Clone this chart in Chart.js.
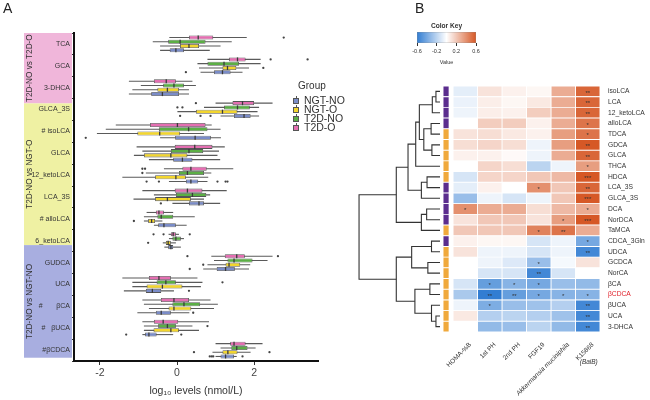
<!DOCTYPE html>
<html><head><meta charset="utf-8">
<script src="https://cdn.jsdelivr.net/npm/chart.js@4.4.1/dist/chart.umd.min.js"></script>
<style>
html,body{margin:0;padding:0;background:#fff;}
#wrap{position:relative;width:650px;height:400px;overflow:hidden;font-family:"Liberation Sans",Arial,sans-serif;color:#333;}
canvas{position:absolute;}
.plbl{position:absolute;font-size:14px;color:#222;}
.lg{position:absolute;font-size:10.5px;line-height:12px;color:#333;white-space:nowrap;}
.ic{position:absolute;left:-11px;top:2px;width:6px;height:8px;}
.ic i{position:absolute;left:2.5px;top:0;width:1px;height:8px;background:#555;}
.ic b{position:absolute;left:0;top:1.5px;width:4.4px;height:4.4px;border:0.8px solid #555;}
</style></head><body>
<div id="wrap">
  <canvas id="cA" width="400" height="400" style="left:0;top:0;width:400px;height:400px"></canvas>
  <canvas id="cD" width="90" height="400" style="left:355px;top:0;width:90px;height:400px"></canvas>
  <canvas id="cH" width="210" height="400" style="left:440px;top:0;width:210px;height:400px"></canvas>
  <canvas id="cK" width="80" height="55" style="left:410px;top:15px;width:80px;height:55px"></canvas>
  <div class="plbl" style="left:3px;top:0px">A</div>
  <div class="plbl" style="left:415px;top:0px">B</div>
  <div id="legend"></div>
</div>
<script>
const FAM = '"Liberation Sans", Arial, sans-serif';
Chart.defaults.font.family = FAM;
Chart.defaults.color = '#333';

// ---------------- Panel A data ----------------
const categories = ['TCA','GCA','3-DHCA','GLCA_3S','# isoLCA','GLCA','12_ketoLCA','LCA_3S','# alloLCA','6_ketoLCA','GUDCA','UCA','#\u00a0\u00a0\u00a0\u00a0\u00a0\u00a0\u00a0\u03b2CA','#\u00a0\u00a0\u00a0\u03b2UCA','#\u03b2CDCA'];
const groupNames = ['NGT-NO','NGT-O','T2D-NO','T2D-O'];
const groupColors = ['#7A8CC8','#F3D62E','#5BAF45','#E46FB2'];
// [lower whisker, Q1, median, Q3, upper whisker] per category
const boxNGTNO = [[-0.44,-0.19,-0.03,0.18,0.85],[0.61,0.96,1.18,1.39,1.70],[-1.25,-0.67,-0.38,0.05,0.31],[1.13,1.48,1.74,1.91,2.13],[-0.44,-0.05,0.47,0.88,1.14],[-0.73,-0.10,0.14,0.40,1.12],[-0.21,0.23,0.36,0.55,0.79],[-0.12,0.31,0.57,0.70,1.12],[-0.60,-0.49,-0.34,-0.03,0.25],[-0.33,-0.23,-0.16,-0.10,0.10],[0.68,1.03,1.26,1.50,1.87],[-1.38,-0.81,-0.64,-0.41,-0.08],[-1.03,-0.55,-0.41,-0.16,0.32],[-0.90,-0.83,-0.73,-0.53,-0.10],[1.00,1.13,1.26,1.48,1.55]];
const boxNGTO = [[-0.44,0.08,0.31,0.57,1.13],[0.57,1.18,1.31,1.54,1.87],[-1.16,-0.51,-0.25,0.05,0.31],[0.01,0.49,1.18,1.57,2.09],[-2.08,-1.03,-0.45,0.08,0.70],[-1.12,-0.86,-0.16,0.27,1.05],[-1.42,-0.57,-0.03,0.23,0.81],[-1.13,-0.57,-0.25,0.36,0.70],[-0.86,-0.75,-0.66,-0.57,-0.38],[-0.37,-0.29,-0.23,-0.16,-0.03],[0.79,1.26,1.35,1.64,1.90],[-1.16,-0.79,-0.38,0.14,0.62],[-0.73,-0.22,-0.08,0.37,0.96],[-0.86,-0.61,-0.16,0.05,0.57],[0.92,1.18,1.32,1.57,1.91]];
const boxT2DNO = [[-0.63,-0.23,0.08,0.74,1.42],[0.53,0.79,1.22,1.61,2.17],[-0.94,-0.36,-0.08,0.18,0.49],[0.70,1.22,1.57,1.89,2.13],[-1.85,-0.47,0.30,0.79,1.13],[-0.90,-0.16,0.31,0.68,1.09],[-0.81,0.05,0.27,0.70,0.89],[-0.60,-0.03,0.40,0.76,0.86],[-0.86,-0.51,-0.41,-0.10,0.46],[-0.21,-0.12,-0.03,0.10,0.18],[0.96,1.31,1.48,1.96,2.35],[-1.16,-0.53,-0.29,-0.03,0.66],[-0.86,-0.12,0.18,0.60,1.06],[-0.86,-0.49,-0.25,-0.03,0.40],[1.13,1.41,1.55,1.83,2.04]];
const boxT2DO = [[-0.20,0.31,0.55,0.94,1.81],[0.79,1.35,1.57,1.78,2.17],[-1.25,-0.60,-0.28,-0.03,0.40],[1.00,1.44,1.70,2.00,2.48],[-1.59,-0.70,0.01,0.74,0.90],[-1.05,-0.06,0.46,0.92,1.24],[-0.34,0.14,0.36,0.77,1.46],[-0.90,-0.06,0.27,0.66,1.29],[-0.79,-0.55,-0.47,-0.34,-0.10],[-0.22,-0.16,-0.10,-0.03,0.05],[0.89,1.24,1.55,1.76,2.48],[-1.42,-0.73,-0.47,-0.16,0.53],[-0.90,-0.42,-0.08,0.31,0.87],[-0.90,-0.60,-0.36,0.03,0.83],[1.00,1.38,1.48,1.78,2.22]];
// outliers: [category index, value]
const outNGTNO = [[1,0.23],[3,0.08],[3,0.61],[3,0.87],[4,-2.37],[6,-0.79],[6,-0.47],[6,1.05],[6,1.26],[6,1.31],[7,-0.42],[10,0.33],[11,0.31],[12,0.42],[13,-1.32],[13,0.11],[14,0.85],[14,0.90],[14,0.94],[14,1.70]];
const outNGTO = [[1,2.24],[8,-1.12],[9,-0.75],[10,0.68],[14,0.44],[14,2.40]];
const outT2DNO = [[3,0.01],[3,0.14],[6,-0.90],[11,1.18],[13,0.79]];
const outT2DO = [[0,2.77],[1,2.43],[1,3.39],[3,0.49],[6,-0.90],[6,-0.83],[9,-0.61],[9,-0.35],[9,0.33],[10,0.27],[10,2.62]];
const xTicksA = [-2,0,2];
const comparisons = [
  {label:'T2D-NO vs T2D-O', from:-0.5, to:2.72, color:'#F0B6DA'},
  {label:'T2D-NO vs NGT-O', from:2.72, to:9.2, color:'#EFF1A3'},
  {label:'T2D-NO vs NGT-NO', from:9.2, to:14.35, color:'#A8AEE0'}
];

// ---------------- Panel B data ----------------
const rowLabels = ['isoLCA','LCA','12_ketoLCA','alloLCA','TDCA','GDCA','GLCA','THCA','HDCA','LCA_3S','GLCA_3S','DCA','NorDCA','TaMCA','CDCA_3Gln','UDCA','GCDCA','NorCA','\u03b2CA','\u03b2CDCA','\u03b2UCA','UCA','3-DHCA'];
const rowClass = ['P','P','P','P','O','O','O','O','O','P','P','P','P','O','P','O','O','O','O','O','O','O','O'];
const colLabels = ['HOMA-%B','1st PH','2nd PH','FGF19','Akkermansia muciniphila','K15868'];
const colItalic = [false,false,false,false,true,false];
const homaB = [-0.08,-0.06,-0.05,0.00,0.10,0.12,0.05,0.00,-0.12,-0.08,-0.30,0.40,0.10,0.20,0.05,0.10,0.00,0.00,-0.12,-0.25,-0.05,0.08,0.00];
const ph1   = [0.10,0.06,0.06,0.18,0.12,0.15,0.05,0.15,0.15,0.05,-0.05,0.30,0.20,0.20,0.03,-0.05,-0.05,-0.12,-0.45,-0.60,-0.38,-0.22,-0.32];
const ph2   = [0.05,0.03,0.05,0.18,0.08,0.12,0.02,0.12,0.15,0.00,-0.12,0.30,0.20,0.20,0.03,-0.05,-0.10,-0.12,-0.35,-0.45,-0.30,-0.20,-0.30];
const fgf19 = [0.03,0.08,0.18,0.05,0.05,-0.05,-0.05,-0.20,0.20,0.40,-0.05,0.12,0.10,0.45,-0.12,-0.12,-0.30,-0.55,-0.40,-0.40,-0.28,-0.22,-0.20];
const akk   = [0.30,0.30,0.30,0.30,0.35,0.35,0.30,-0.05,0.25,0.20,0.20,0.25,0.35,0.50,-0.05,-0.05,-0.03,-0.12,-0.30,-0.35,-0.22,-0.28,-0.32];
const k15868= [0.55,0.55,0.55,0.50,0.50,0.60,0.55,0.35,0.65,0.55,0.65,0.30,0.60,0.30,-0.40,-0.55,0.10,0.00,-0.32,-0.35,-0.55,-0.55,-0.55];
const homaStar = ['','','','','','','','','','','','*','','','','','','','','','','',''];
const ph1Star  = ['','','','','','','','','','','','','','','','','','','*','**','*','',''];
const ph2Star  = ['','','','','','','','','','','','','','','','','','','*','**','','',''];
const fgfStar  = ['','','','','','','','','','*','','','','*','','','*','**','*','*','','',''];
const akkStar  = ['','','','','','','','','','','','','*','**','','','','','','*','','',''];
const kStar    = ['**','**','**','*','*','**','**','*','***','**','***','*','***','','*','**','','','','*','**','**','**'];
const keyTicks = [-0.6,-0.2,0.2,0.6];
// dendrogram merges: [node a, node b, height]; new node ids start at 23
const merges = [[0,1,0.10],[23,2,0.19],[3,4,0.22],[5,6,0.20],[25,26,0.40],[24,27,0.51],[28,7,0.60],[8,9,0.32],[30,10,0.46],[29,31,0.79],[11,12,0.33],[33,13,0.46],[32,34,1.08],[14,15,0.21],[16,17,0.30],[36,37,0.70],[18,19,0.25],[21,22,0.10],[20,40,0.21],[39,41,0.62],[38,42,1.08],[35,43,2.00]];

// ---------------- Panel A chart ----------------
const boxes = [boxT2DO, boxT2DNO, boxNGTO, boxNGTNO];
const outs = [outT2DO, outT2DNO, outNGTO, outNGTNO];
const order = [3,2,1,0];
const boxPlugin = {
  id:'boxExtras',
  beforeDraw(chart){
    const ctx = chart.ctx, ys = chart.scales.y;
    comparisons.forEach(c=>{
      const y0 = ys.getPixelForValue(c.from), y1 = ys.getPixelForValue(c.to);
      ctx.fillStyle = c.color; ctx.fillRect(24, y0, 48, y1-y0);
      ctx.save(); ctx.translate(30, (y0+y1)/2); ctx.rotate(-Math.PI/2);
      ctx.fillStyle = '#333'; ctx.font = '8.2px '+FAM; ctx.textAlign='center'; ctx.textBaseline='middle';
      ctx.fillText(c.label, 0, 0); ctx.restore();
    });
  },
  beforeDatasetsDraw(chart){
    const ctx = chart.ctx, xs = chart.scales.x;
    chart.data.datasets.forEach((ds,di)=>{
      chart.getDatasetMeta(di).data.forEach((el,i)=>{
        const s = ds.stats[i];
        ctx.strokeStyle = '#5a5a5a'; ctx.lineWidth = 1.1;
        ctx.beginPath(); ctx.moveTo(xs.getPixelForValue(s[0]), el.y); ctx.lineTo(xs.getPixelForValue(s[4]), el.y); ctx.stroke();
      });
    });
  },
  afterDatasetsDraw(chart){
    const ctx = chart.ctx, xs = chart.scales.x;
    chart.data.datasets.forEach((ds,di)=>{
      const meta = chart.getDatasetMeta(di);
      meta.data.forEach((el,i)=>{
        const s = ds.stats[i]; const x = xs.getPixelForValue(s[2]);
        ctx.strokeStyle = '#3a3a3a'; ctx.lineWidth = 1.3;
        ctx.beginPath(); ctx.moveTo(x, el.y - el.height/2); ctx.lineTo(x, el.y + el.height/2); ctx.stroke();
      });
      ctx.fillStyle = '#444';
      ds.outl.forEach(([ci,v])=>{
        const el = meta.data[ci];
        ctx.beginPath(); ctx.arc(xs.getPixelForValue(v), el.y, 1.15, 0, Math.PI*2); ctx.fill();
      });
    });
  }
};
new Chart(document.getElementById('cA'), {
  type:'bar',
  data:{labels:categories, datasets: boxes.map((b,k)=>({
    label: groupNames[order[k]], data: b.map(s=>[s[1],s[3]]), stats:b, outl: outs[k],
    backgroundColor: groupColors[order[k]], borderColor:'#555', borderWidth:0.8, borderSkipped:false,
    categoryPercentage:0.78, barPercentage:0.95
  }))},
  options:{
    responsive:false, animation:false, indexAxis:'y',
    layout:{padding:{top:33,right:82,left:0,bottom:0}},
    plugins:{legend:{display:false}, tooltip:{enabled:false}},
    scales:{
      x:{type:'linear', min:-2.675, max:3.66,
        afterBuildTicks:s=>{s.ticks = xTicksA.map(v=>({value:v}));},
        grid:{display:true, drawOnChartArea:false, drawTicks:true, tickLength:4, color:'#333'},
        border:{display:true, color:'#111', width:2},
        ticks:{font:{size:10.5}, color:'#444', padding:2},
        title:{display:true, text:'log\u2081\u2080 levels (nmol/L)', font:{size:10.5}, color:'#333', padding:{top:0,bottom:3}},
        afterFit:s=>{s.height = 39; s.paddingLeft=0; s.paddingRight=0;}
      },
      y:{type:'category',
        grid:{display:true, drawOnChartArea:false, drawTicks:true, tickLength:2, color:'#333'},
        border:{display:true, color:'#111', width:2},
        ticks:{font:{size:7}, color:'#333', padding:2, autoSkip:false},
        afterFit:s=>{s.width = 74;}
      }
    }
  },
  plugins:[boxPlugin]
});
// legend (HTML)
(function(){
  const lg = document.getElementById('legend');
  let h = '<div class="lg" style="left:298px;top:80px;font-size:10px">Group</div>';
  groupNames.forEach((g,i)=>{
    h += '<div class="lg" style="left:304px;top:'+(94+i*9)+'px"><span class="ic"><i></i><b style="background:'+groupColors[i]+'"></b></span>'+g+'</div>';
  });
  lg.innerHTML = h;
})();

// ---------------- colour scale ----------------
function colorFor(v){
  const t = Math.min(1, Math.abs(v)/0.6);
  const end = v < 0 ? [50,125,210] : [214,88,38];
  const c = end.map(e=>Math.round(255 + (e-255)*t));
  return 'rgb('+c.join(',')+')';
}

// ---------------- Dendrogram ----------------
(function(){
  const pos = rowLabels.map((_,i)=>i), hts = rowLabels.map(()=>0), segs = [];
  merges.forEach(([a,b,h])=>{
    segs.push([{x:hts[a],y:pos[a]},{x:h,y:pos[a]},{x:h,y:pos[b]},{x:hts[b],y:pos[b]}]);
    pos.push((pos[a]+pos[b])/2); hts.push(h);
  });
  new Chart(document.getElementById('cD'), {
    type:'scatter',
    data:{datasets: segs.map(p=>({data:p, showLine:true, borderColor:'#333', borderWidth:1.1, pointRadius:0, tension:0, clip:false}))},
    options:{responsive:false, animation:false,
      layout:{padding:{top:86,bottom:68,left:0,right:5}},
      plugins:{legend:{display:false}, tooltip:{enabled:false}},
      scales:{x:{type:'linear', reverse:true, min:0, max:2.1, display:false},
              y:{type:'linear', reverse:true, min:-0.5, max:22.5, display:false}}}
  });
})();

// ---------------- Heatmap ----------------
const heatCols = [homaB, ph1, ph2, fgf19, akk, k15868];
const heatStars = [homaStar, ph1Star, ph2Star, fgfStar, akkStar, kStar];
const starPlugin = {
  id:'stars',
  afterDatasetsDraw(chart){
    const ctx = chart.ctx;
    ctx.save(); ctx.fillStyle = '#333'; ctx.font = '6px '+FAM; ctx.textAlign='center'; ctx.textBaseline='middle';
    chart.data.datasets.forEach((ds,di)=>{
      if(!ds.stars) return;
      chart.getDatasetMeta(di).data.forEach((el,i)=>{
        if(ds.stars[i]) ctx.fillText(ds.stars[i], (el.x+el.base)/2, el.y+1.5);
      });
    });
    ctx.font = 'italic 6.5px '+FAM;
    const xs = chart.scales.x;
    ctx.fillText('(BaiB)', xs.getPixelForValue(5.5)+1, 362);
    ctx.restore();
  }
};
new Chart(document.getElementById('cH'), {
  type:'bar',
  data:{labels:rowLabels, datasets:[
    {data:rowLabels.map(()=>[-0.41,-0.16]), backgroundColor:rowClass.map(c=>c==='P'?'#5B2D8E':'#F0A93C'),
     borderColor:'#fff', borderWidth:0.8, borderSkipped:false, barPercentage:1, categoryPercentage:1, grouped:false},
    ...heatCols.map((vals,k)=>({data:vals.map(()=>[k,k+1]), backgroundColor:vals.map(colorFor), stars:heatStars[k],
     borderColor:'#fff', borderWidth:0.8, borderSkipped:false, barPercentage:1, categoryPercentage:1, grouped:false}))
  ]},
  options:{responsive:false, animation:false, indexAxis:'y',
    layout:{padding:{top:86,left:3,right:0,bottom:0}},
    plugins:{legend:{display:false}, tooltip:{enabled:false}},
    scales:{
      x:{type:'linear', min:-0.41, max:6, grid:{display:false}, border:{display:false},
        afterBuildTicks:s=>{s.ticks = colLabels.map((_,k)=>({value:k+0.5}));},
        ticks:{autoSkip:false, minRotation:45, maxRotation:45, padding:1, labelOffset:5, color:'#333',
          font:(c)=>({family:FAM, size:6.5, style: colItalic[c.index]?'italic':'normal'}),
          callback:(v,i)=>colLabels[i]},
        afterFit:s=>{s.height = 68; s.paddingLeft=0; s.paddingRight=0;}
      },
      y:{type:'category', position:'right', grid:{display:false}, border:{display:false},
        ticks:{autoSkip:false, padding:0, font:{size:6.7}, color:(c)=>c.index===19?'#E0202A':'#333'},
        afterFit:s=>{s.width = 50;}
      }
    }
  },
  plugins:[starPlugin]
});

// ---------------- Color key ----------------
new Chart(document.getElementById('cK'), {
  type:'bar',
  data:{labels:['key'], datasets:[{data:[[-0.6,0.6]], borderColor:'#888', borderWidth:0.6, borderSkipped:false,
    barPercentage:1, categoryPercentage:1,
    backgroundColor:(c)=>{
      const a = c.chart.chartArea; if(!a) return '#fff';
      const g = c.chart.ctx.createLinearGradient(a.left,0,a.right,0);
      for(let i=0;i<=12;i++){ const v=-0.6+i*0.1; g.addColorStop(i/12, colorFor(v)); }
      return g;
    }}]},
  options:{responsive:false, animation:false, indexAxis:'y',
    layout:{padding:{top:17,left:7,right:14,bottom:0}},
    plugins:{legend:{display:false}, tooltip:{enabled:false}},
    scales:{
      x:{type:'linear', min:-0.6, max:0.6,
        afterBuildTicks:s=>{s.ticks = keyTicks.map(v=>({value:v}));},
        grid:{display:true, drawOnChartArea:false, tickLength:3, color:'#333'}, border:{display:false},
        ticks:{font:{size:5.5}, color:'#333', padding:2, callback:v=>v.toFixed(1)},
        title:{display:true, text:'Value', font:{size:5.5}, color:'#333', padding:{top:0,bottom:4}},
        afterFit:s=>{s.height=27; s.paddingLeft=0; s.paddingRight=0;}
      },
      y:{display:false}
    }
  },
  plugins:[{id:'keyTitle', afterDraw(chart){
    const ctx=chart.ctx, a=chart.chartArea; ctx.save(); ctx.fillStyle='#333'; ctx.font='bold 6.6px '+FAM;
    ctx.textAlign='center'; ctx.textBaseline='middle'; ctx.fillText('Color Key',(a.left+a.right)/2, 11); ctx.restore();
  }}]
});
</script>
</body></html>
